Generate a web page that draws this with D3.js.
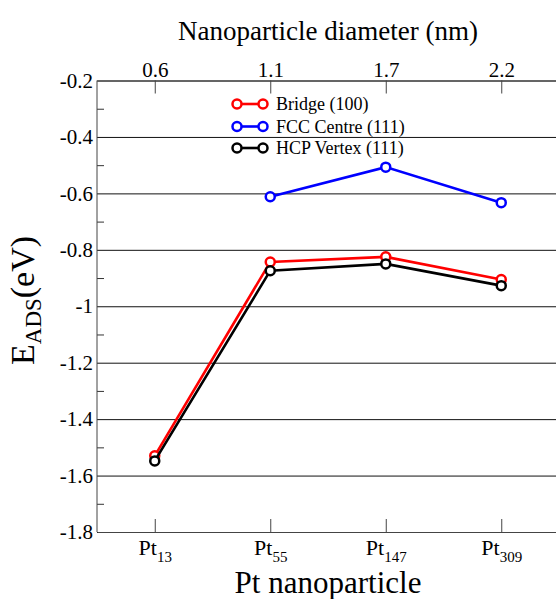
<!DOCTYPE html>
<html>
<head>
<meta charset="utf-8">
<script src="https://cdn.jsdelivr.net/npm/d3@7"></script>
<style>
  body { margin: 0; background: #fff; }
</style>
</head>
<body>
<svg id="chart"></svg>
<script>
// Data
const particles = [
  { name: "Pt", sub: "13" },
  { name: "Pt", sub: "55" },
  { name: "Pt", sub: "147" },
  { name: "Pt", sub: "309" }
];
const diameters = ["0.6", "1.1", "1.7", "2.2"];

const bridge = [-1.530, -0.843, -0.825, -0.905];
const fccCentre = [null, -0.612, -0.507, -0.633];
const hcpVertex = [-1.548, -0.874, -0.850, -0.927];

const seriesNames = ["Bridge (100)", "FCC Centre (111)", "HCP Vertex (111)"];
const seriesColors = ["#ff0000", "#0000ff", "#000000"];

const yMajor = [-1.8, -1.6, -1.4, -1.2, -1, -0.8, -0.6, -0.4, -0.2];
const yMinor = [-1.7, -1.5, -1.3, -1.1, -0.9, -0.7, -0.5, -0.3];

const width = 556;
const height = 599;
const mLeft = 97, mRight = 559, mTop = 80.5, mBottom = 532;
const serif = '"Liberation Serif"';

const svg = d3.select("#chart")
  .attr("width", width)
  .attr("height", height)
  .style("font-family", serif);

const x = d3.scaleLinear().domain([-0.5, 3.5]).range([mLeft, mRight]);
const y = d3.scaleLinear().domain([-1.8, -0.2]).range([mBottom, mTop]);

const fmt = (v) => String(+v.toFixed(1));

// gridlines + left labels
const gLeft = svg.append("g")
  .attr("transform", `translate(${mLeft},0)`)
  .call(d3.axisLeft(y).tickValues(yMajor).tickSize(-(mRight - mLeft)).tickPadding(4).tickFormat(fmt));
gLeft.select(".domain").remove();
gLeft.selectAll(".tick line").attr("stroke", "#111").attr("stroke-width", 1);
gLeft.selectAll(".tick text").attr("font-size", 21).attr("fill", "#000").style("font-family", serif);

// minor ticks on left
const gMinor = svg.append("g")
  .attr("transform", `translate(${mLeft},0)`)
  .call(d3.axisLeft(y).tickValues(yMinor).tickSize(-7).tickFormat(""));
gMinor.select(".domain").remove();
gMinor.selectAll(".tick line").attr("stroke", "#333");

// bottom axis
const gBottom = svg.append("g")
  .attr("transform", `translate(0,${mBottom})`)
  .call(d3.axisBottom(x).tickValues([0, 1, 2, 3]).tickSize(-13).tickSizeOuter(0).tickFormat(""));
gBottom.selectAll(".tick line").attr("stroke", "#444");
gBottom.select(".domain").attr("stroke", "#444");
gBottom.selectAll(".tick").each(function (d) {
  const t = d3.select(this).append("text")
    .attr("y", 23)
    .attr("fill", "#000")
    .attr("font-size", 22)
    .style("font-family", serif)
    .attr("text-anchor", "middle");
  t.append("tspan").text(particles[d].name);
  t.append("tspan").attr("font-size", 15).attr("dy", 7).text(particles[d].sub);
});

// top axis
const gTop = svg.append("g")
  .attr("transform", `translate(0,${mTop})`)
  .call(d3.axisTop(x).tickValues([0, 1, 2, 3]).tickSize(-13).tickSizeOuter(0).tickPadding(4)
    .tickFormat((d) => diameters[d]));
gTop.selectAll(".tick line").attr("stroke", "#444");
gTop.select(".domain").attr("stroke", "#444");
gTop.selectAll(".tick text").attr("font-size", 21).attr("fill", "#000").style("font-family", serif);

// left axis line
svg.append("line")
  .attr("x1", mLeft).attr("x2", mLeft)
  .attr("y1", mTop).attr("y2", mBottom)
  .attr("stroke", "#444");

// titles
svg.append("text")
  .attr("x", (mLeft + mRight) / 2)
  .attr("y", 40)
  .attr("text-anchor", "middle")
  .attr("font-size", 27)
  .style("font-family", serif)
  .text("Nanoparticle diameter (nm)");

svg.append("text")
  .attr("x", (mLeft + mRight) / 2)
  .attr("y", 593)
  .attr("text-anchor", "middle")
  .attr("font-size", 31)
  .style("font-family", serif)
  .text("Pt nanoparticle");

const yTitle = svg.append("text")
  .attr("transform", "translate(34,365) rotate(-90)")
  .attr("text-anchor", "start")
  .attr("font-size", 34)
  .style("font-family", serif);
yTitle.append("tspan").text("E");
yTitle.append("tspan").attr("font-size", 23).attr("dy", 7).text("ADS");
yTitle.append("tspan").attr("dy", -7).text("(eV)");

// series
const allSeries = [bridge, fccCentre, hcpVertex];
const line = d3.line()
  .defined((d) => d != null)
  .x((d, i) => x(i))
  .y((d) => y(d));

allSeries.forEach((vals, k) => {
  svg.append("path")
    .datum(vals)
    .attr("fill", "none")
    .attr("stroke", seriesColors[k])
    .attr("stroke-width", 2.6)
    .attr("d", line);

  svg.selectAll(null)
    .data(vals.map((v, i) => ({ v, i })).filter((p) => p.v != null))
    .join("circle")
    .attr("cx", (p) => x(p.i))
    .attr("cy", (p) => y(p.v))
    .attr("r", 4.5)
    .attr("fill", "#fff")
    .attr("stroke", seriesColors[k])
    .attr("stroke-width", 2.5);
});

// legend
const legendRows = [104, 126.5, 148];
seriesNames.forEach((name, k) => {
  const g = svg.append("g").attr("transform", `translate(0,${legendRows[k]})`);
  g.append("line")
    .attr("x1", 237).attr("x2", 263)
    .attr("stroke", seriesColors[k])
    .attr("stroke-width", 2.6);
  [237, 263].forEach((cx) => {
    g.append("circle")
      .attr("cx", cx).attr("r", 4.5)
      .attr("fill", "#fff")
      .attr("stroke", seriesColors[k])
      .attr("stroke-width", 2.5);
  });
  g.append("text")
    .attr("x", 276)
    .attr("dy", "0.35em")
    .attr("font-size", 18)
    .style("font-family", serif)
    .text(name);
});
</script>
</body>
</html>
